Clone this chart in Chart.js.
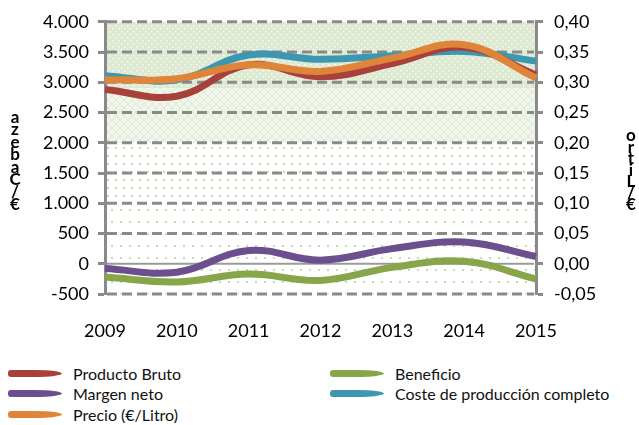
<!DOCTYPE html>
<html>
<head>
<meta charset="utf-8">
<script src="https://cdn.jsdelivr.net/npm/chart.js@4.4.0/dist/chart.umd.min.js"></script>
<style>
  body { margin: 0; background: #fff; }
  #wrap { position: relative; width: 639px; height: 425px; }
  #chart { position: absolute; left: 0; top: 0; }
  #legend {
    position: absolute; left: 8px; top: 363px;
    display: grid; grid-auto-flow: column;
    grid-template-rows: repeat(3, 20.5px); grid-template-columns: 322px auto;
    font: 16px Lato, sans-serif; color: #111;
  }
  .item { display: flex; align-items: center; white-space: nowrap; }
  .sw { width: 54px; height: 7px; border-radius: 3px 50% 50% 3px; margin-right: 11px; }
</style>
</head>
<body>
<div id="wrap">
  <canvas id="chart" width="639" height="360" style="width:639px;height:360px"></canvas>
  <div id="legend"></div>
</div>
<script>
// Data
const years = ['2009', '2010', '2011', '2012', '2013', '2014', '2015'];
const productoBruto = [2880, 2770, 3290, 3090, 3310, 3580, 3120];
const margenNeto = [-80, -140, 220, 60, 250, 360, 120];
const precio = [0.304, 0.306, 0.329, 0.318, 0.340, 0.362, 0.307];
const beneficio = [-220, -300, -170, -275, -60, 40, -250];
const coste = [3110, 3040, 3450, 3380, 3440, 3510, 3350];

const leftTicks = { min: -500, max: 4000, step: 500 };
const rightTicks = { min: -0.05, max: 0.40, step: 0.05 };

const grey = '#8a8a8a';

function makePattern(w, h, bg, draw) {
  const c = document.createElement('canvas');
  c.width = w; c.height = h;
  const g = c.getContext('2d');
  g.fillStyle = bg;
  g.fillRect(0, 0, w, h);
  draw(g);
  return c;
}

// background bands of the plot area
const bgPlugin = {
  id: 'bg',
  beforeDraw(chart) {
    const { ctx, chartArea: a, scales } = chart;
    const y = scales.y;
    const topDots = makePattern(6, 6, '#dde9d1', g => {
      g.fillStyle = 'rgba(255,255,255,0.8)';
      g.fillRect(1, 1, 1.5, 1.5);
      g.fillRect(4, 4, 1.5, 1.5);
    });
    const cross = makePattern(8, 8, '#f1f6ec', g => {
      g.strokeStyle = '#dde9d1';
      g.lineWidth = 1;
      g.beginPath();
      g.moveTo(0, 0); g.lineTo(8, 8);
      g.moveTo(8, 0); g.lineTo(0, 8);
      g.stroke();
    });
    const denseDots = makePattern(8, 8, '#ffffff', g => {
      g.fillStyle = '#c6dbae';
      g.fillRect(3, 3, 2, 2);
    });
    const sparseDots = makePattern(9, 12, '#ffffff', g => {
      g.fillStyle = '#c6dbae';
      g.fillRect(3, 5, 2, 2);
    });
    const bands = [
      [leftTicks.max, 2900, topDots],
      [2900, 2000, cross],
      [2000, 1000, denseDots],
      [1000, leftTicks.min, sparseDots]
    ];
    ctx.save();
    bands.forEach(([from, to, pat]) => {
      const y0 = y.getPixelForValue(from), y1 = y.getPixelForValue(to);
      ctx.fillStyle = ctx.createPattern(pat, 'repeat');
      ctx.fillRect(a.left, y0, a.right - a.left, y1 - y0);
    });
    ctx.restore();
  },
  beforeDatasetsDraw(chart) {
    const { ctx, chartArea: a, scales } = chart;
    ctx.save();
    scales.y.ticks.forEach(t => {
      const py = scales.y.getPixelForValue(t.value);
      ctx.beginPath();
      if (t.value === 0) {
        ctx.setLineDash([]);
        ctx.lineWidth = 2;
        ctx.strokeStyle = '#9a9a9a';
      } else {
        ctx.setLineDash([10, 5]);
        ctx.lineWidth = 3;
        ctx.strokeStyle = grey;
      }
      ctx.moveTo(a.left + 2, py);
      ctx.lineTo(a.right - 2, py);
      ctx.stroke();
    });
    ctx.restore();
  },
  afterDraw(chart) {
    // stacked axis titles
    const ctx = chart.ctx;
    ctx.save();
    ctx.fillStyle = '#000';
    ctx.font = 'bold 17px Lato, sans-serif';
    ctx.textAlign = 'center';
    ctx.textBaseline = 'alphabetic';
    const stack = (txt, x, yBottom, step) => {
      [...txt].forEach((ch, i) => ctx.fillText(ch, x, yBottom - i * step));
    };
    stack('€/Cabeza', 15, 210, 12.5);
    stack('€/Litro', 631, 210, 11.5);
    ctx.restore();
  }
};

const thin = v => v.toLocaleString('de-DE');

const chart = new Chart(document.getElementById('chart'), {
  type: 'line',
  data: {
    labels: years,
    datasets: [
      { label: 'Producto Bruto', data: productoBruto, borderColor: '#a8403c', yAxisID: 'y', order: 2 },
      { label: 'Margen neto', data: margenNeto, borderColor: '#6b4f8e', yAxisID: 'y', order: 1 },
      { label: 'Precio (€/Litro)', data: precio, borderColor: '#e0843a', yAxisID: 'y1', order: 0 },
      { label: 'Beneficio', data: beneficio, borderColor: '#87a64a', yAxisID: 'y', order: 1 },
      { label: 'Coste de producción completo', data: coste, borderColor: '#3e97b0', yAxisID: 'y', order: 3 }
    ]
  },
  options: {
    responsive: false,
    animation: false,
    layout: { padding: { top: 12, left: 0, right: 0, bottom: 0 } },
    elements: {
      line: { borderWidth: 7, tension: 0.4, fill: false, borderCapStyle: 'butt' },
      point: { radius: 0 }
    },
    plugins: { legend: { display: false }, tooltip: { enabled: false } },
    scales: {
      x: {
        offset: false,
        grid: { display: false, drawTicks: false },
        border: { display: false },
        ticks: { padding: 26, color: '#000', font: { family: 'Lato', size: 18 } },
        afterFit(s) { s.height = 66; }
      },
      y: {
        position: 'left',
        min: leftTicks.min, max: leftTicks.max,
        grid: { drawOnChartArea: false, drawTicks: true, tickLength: 7, tickWidth: 3, tickColor: grey, color: grey },
        border: { color: grey, width: 3 },
        ticks: {
          stepSize: leftTicks.step, padding: 9, color: '#000',
          font: { family: 'Lato', size: 18 },
          callback: v => thin(v)
        },
        afterFit(s) { s.width = 105; }
      },
      y1: {
        position: 'right',
        min: rightTicks.min, max: rightTicks.max,
        grid: { drawOnChartArea: false, drawTicks: true, tickLength: 7, tickWidth: 3, tickColor: grey, color: grey },
        border: { color: grey, width: 3 },
        ticks: {
          stepSize: rightTicks.step, padding: 11, color: '#000',
          font: { family: 'Lato', size: 18 },
          callback: v => v.toFixed(2).replace('.', ',')
        },
        afterFit(s) { s.width = 103; }
      }
    }
  },
  plugins: [bgPlugin]
});

// html legend from the datasets
const legend = document.getElementById('legend');
chart.data.datasets.forEach(ds => {
  const item = document.createElement('div');
  item.className = 'item';
  item.innerHTML = '<span class="sw" style="background:' + ds.borderColor + '"></span>' + ds.label;
  legend.appendChild(item);
});
</script>
</body>
</html>
